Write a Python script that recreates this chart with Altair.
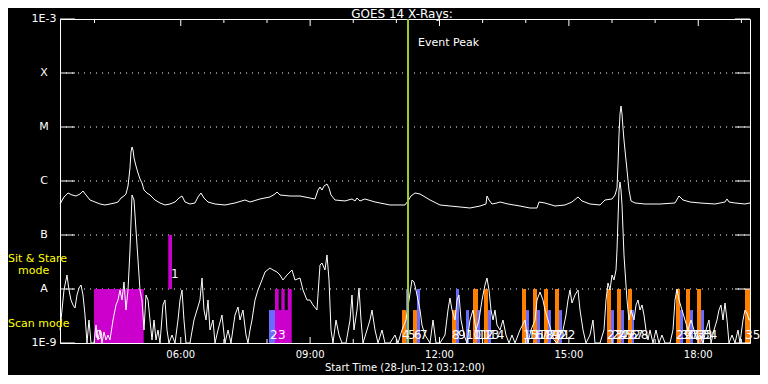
import altair as alt
import pandas as pd

# ---------------- data (hours of 28-Jun-12, log10 flux in W/m^2) ----------------
upper_hour = [3.200, 3.293, 3.386, 3.478, 3.571, 3.664, 3.733, 3.803, 3.896, 4.012,
              4.128, 4.243, 4.359, 4.475, 4.545, 4.615, 4.684, 4.730, 4.777, 4.823,
              4.846, 4.870, 4.893, 4.916, 4.962, 5.009, 5.055, 5.101, 5.148, 5.217,
              5.287, 5.403, 5.519, 5.635, 5.751, 5.867, 5.959, 6.029, 6.099, 6.214,
              6.330, 6.400, 6.469, 6.539, 6.632, 6.794, 7.026, 7.258, 7.490, 7.606,
              7.838, 8.069, 8.186, 8.232, 8.301, 8.533, 8.765, 8.997, 9.113, 9.183,
              9.229, 9.275, 9.322, 9.391, 9.438, 9.484, 9.577, 9.809, 9.971, 10.040,
              10.087, 10.156, 10.272, 10.504, 10.852, 11.200, 11.270, 11.339, 11.432, 11.548,
              11.664, 11.780, 12.011, 12.243, 12.475, 12.707, 12.939, 13.078, 13.101, 13.148,
              13.217, 13.333, 13.403, 13.588, 13.867, 14.098, 14.261, 14.307, 14.446, 14.678,
              14.910, 15.072, 15.212, 15.304, 15.490, 15.722, 15.838, 16.000, 16.070, 16.116,
              16.139, 16.162, 16.186, 16.209, 16.232, 16.255, 16.278, 16.301, 16.348, 16.394,
              16.441, 16.533, 16.765, 17.113, 17.461, 17.554, 17.646, 17.809, 18.040, 18.388,
              18.620, 18.667, 18.713, 18.852, 19.084, 19.200]
upper_log = [-6.426, -6.296, -6.222, -6.259, -6.278, -6.241, -6.185, -6.259, -6.352, -6.389,
             -6.426, -6.444, -6.426, -6.407, -6.389, -6.315, -6.278, -6.241, -6.093, -5.759,
             -5.463, -5.370, -5.426, -5.574, -5.722, -5.852, -5.963, -6.037, -6.167, -6.222,
             -6.259, -6.352, -6.407, -6.444, -6.426, -6.389, -6.315, -6.278, -6.389, -6.426,
             -6.407, -6.296, -6.222, -6.315, -6.389, -6.426, -6.444, -6.407, -6.352, -6.389,
             -6.333, -6.296, -6.241, -6.204, -6.259, -6.278, -6.278, -6.315, -6.333, -6.167,
             -6.111, -6.167, -6.093, -6.056, -6.130, -6.259, -6.352, -6.370, -6.333, -6.370,
             -6.315, -6.370, -6.333, -6.389, -6.444, -6.444, -6.370, -6.278, -6.222, -6.241,
             -6.296, -6.352, -6.444, -6.463, -6.481, -6.500, -6.463, -6.426, -6.278, -6.352,
             -6.426, -6.407, -6.389, -6.426, -6.463, -6.500, -6.500, -6.389, -6.407, -6.463,
             -6.444, -6.389, -6.296, -6.370, -6.426, -6.444, -6.352, -6.333, -6.259, -6.130,
             -5.704, -5.148, -4.759, -4.611, -4.759, -5.019, -5.241, -5.426, -5.796, -6.167,
             -6.370, -6.407, -6.426, -6.426, -6.407, -6.278, -6.352, -6.389, -6.407, -6.426,
             -6.389, -6.333, -6.389, -6.407, -6.426, -6.407]

lower_hour = [3.200, 3.246, 3.293, 3.362, 3.409, 3.455, 3.501, 3.548, 3.594, 3.641,
              3.687, 3.733, 3.780, 3.826, 3.872, 3.919, 3.988, 4.035, 4.081, 4.128,
              4.174, 4.220, 4.267, 4.313, 4.359, 4.429, 4.499, 4.545, 4.591, 4.638,
              4.684, 4.730, 4.777, 4.823, 4.870, 4.916, 4.962, 5.009, 5.055, 5.101,
              5.148, 5.194, 5.241, 5.287, 5.333, 5.380, 5.426, 5.472, 5.519, 5.588,
              5.635, 5.681, 5.727, 5.797, 5.867, 5.936, 5.983, 6.029, 6.075, 6.122,
              6.214, 6.307, 6.377, 6.446, 6.493, 6.539, 6.586, 6.632, 6.678, 6.748,
              6.794, 6.864, 6.956, 7.026, 7.096, 7.165, 7.258, 7.328, 7.374, 7.443,
              7.513, 7.559, 7.606, 7.652, 7.722, 7.791, 7.884, 7.954, 8.069, 8.139,
              8.232, 8.301, 8.371, 8.464, 8.580, 8.649, 8.765, 8.835, 8.927, 8.997,
              9.067, 9.159, 9.229, 9.275, 9.345, 9.391, 9.438, 9.484, 9.530, 9.600,
              9.670, 9.739, 9.832, 9.925, 9.971, 10.017, 10.087, 10.133, 10.180, 10.226,
              10.319, 10.388, 10.435, 10.504, 10.574, 10.667, 10.736, 10.852, 10.968, 11.038,
              11.130, 11.223, 11.293, 11.362, 11.409, 11.455, 11.501, 11.548, 11.594, 11.664,
              11.780, 11.849, 11.919, 12.011, 12.127, 12.197, 12.243, 12.290, 12.359, 12.406,
              12.452, 12.499, 12.568, 12.638, 12.707, 12.777, 12.846, 12.916, 12.986, 13.055,
              13.101, 13.148, 13.194, 13.241, 13.287, 13.333, 13.403, 13.472, 13.542, 13.612,
              13.681, 13.751, 13.867, 13.983, 14.052, 14.122, 14.214, 14.261, 14.330, 14.400,
              14.446, 14.516, 14.585, 14.655, 14.725, 14.794, 14.864, 14.933, 14.980, 15.026,
              15.072, 15.142, 15.212, 15.258, 15.328, 15.397, 15.490, 15.559, 15.606, 15.722,
              15.814, 15.861, 15.907, 15.954, 16.000, 16.046, 16.093, 16.116, 16.139, 16.162,
              16.186, 16.209, 16.232, 16.255, 16.278, 16.301, 16.348, 16.394, 16.441, 16.510,
              16.557, 16.603, 16.649, 16.696, 16.742, 16.788, 16.835, 16.881, 16.951, 17.020,
              17.090, 17.159, 17.229, 17.345, 17.414, 17.461, 17.507, 17.554, 17.623, 17.693,
              17.762, 17.832, 17.901, 17.971, 18.040, 18.110, 18.180, 18.249, 18.296, 18.365,
              18.435, 18.481, 18.527, 18.574, 18.620, 18.667, 18.713, 18.783, 18.852, 18.922,
              18.968, 19.038, 19.084, 19.130, 19.177, 19.200]
lower_log = [-8.759, -8.389, -8.019, -7.741, -8.019, -8.204, -8.296, -8.352, -8.111, -7.981,
             -7.926, -8.111, -8.481, -9.000, -8.574, -9.000, -9.000, -8.667, -8.944, -8.759,
             -9.000, -8.796, -8.944, -8.852, -8.944, -8.574, -8.296, -8.204, -8.019, -8.204,
             -7.870, -8.389, -8.019, -7.278, -6.259, -6.352, -6.907, -7.463, -8.019, -8.204,
             -8.759, -8.111, -8.204, -8.574, -8.944, -8.574, -8.944, -8.759, -9.000, -8.296,
             -8.204, -8.759, -9.000, -8.852, -9.000, -8.574, -8.204, -8.019, -8.574, -9.000,
             -9.000, -8.574, -8.389, -8.204, -7.796, -8.389, -8.574, -8.204, -8.759, -8.574,
             -9.000, -8.759, -8.481, -9.000, -8.759, -9.000, -8.481, -8.333, -8.574, -8.389,
             -8.852, -9.000, -8.759, -8.574, -8.204, -8.019, -7.833, -7.685, -7.611, -7.648,
             -7.685, -7.741, -7.833, -7.741, -7.648, -7.833, -7.796, -8.019, -8.204, -8.204,
             -8.296, -8.389, -7.556, -7.519, -7.648, -7.370, -7.833, -8.759, -9.000, -8.574,
             -8.852, -9.000, -9.000, -8.574, -8.111, -8.759, -8.389, -7.981, -8.574, -9.000,
             -8.759, -8.574, -8.389, -8.759, -9.000, -8.759, -9.000, -9.000, -8.852, -9.000,
             -8.759, -8.574, -8.204, -7.833, -7.870, -8.019, -8.204, -8.389, -8.667, -8.852,
             -9.000, -8.574, -9.000, -9.000, -8.852, -8.389, -8.167, -8.389, -8.574, -8.204,
             -8.111, -8.574, -8.852, -9.000, -8.574, -8.389, -8.759, -8.574, -8.204, -7.926,
             -7.796, -8.019, -8.389, -8.574, -8.389, -8.667, -8.759, -8.574, -8.852, -9.000,
             -8.852, -9.000, -8.759, -8.574, -9.000, -8.759, -8.574, -8.204, -8.056, -8.204,
             -8.389, -8.574, -8.759, -8.944, -9.000, -8.852, -8.759, -8.481, -8.204, -8.019,
             -8.259, -8.111, -8.019, -8.389, -8.759, -9.000, -8.852, -8.574, -9.000, -9.000,
             -8.759, -8.204, -7.889, -8.019, -7.741, -7.833, -7.648, -7.278, -6.722, -6.167,
             -6.019, -6.167, -6.444, -6.907, -7.370, -7.648, -8.204, -8.574, -8.389, -8.574,
             -8.296, -8.204, -8.389, -8.296, -8.481, -8.759, -8.944, -8.759, -9.000, -8.759,
             -9.000, -8.852, -9.000, -9.000, -8.759, -8.204, -8.000, -8.204, -8.389, -8.574,
             -8.759, -8.574, -8.759, -8.944, -8.852, -9.000, -8.759, -8.574, -9.000, -8.759,
             -8.574, -8.389, -8.296, -8.574, -8.259, -8.574, -9.000, -8.852, -9.000, -8.759,
             -9.000, -8.574, -8.389, -8.444, -8.574, -8.574]

# observation blocks: start/end hour, bottom/top log10 flux, mode
bar_start = [3.988, 5.711, 8.046, 8.186, 8.186, 8.332, 8.480,
             11.130, 11.223, 11.386, 11.478,
             12.290, 12.382, 12.614, 12.777, 12.870, 13.032, 13.124,
             13.913, 14.006, 14.168, 14.261, 14.423, 14.516, 14.678, 14.771,
             15.884, 15.977, 16.116, 16.209, 16.371, 16.464,
             17.484, 17.577, 17.716, 17.809, 17.971, 18.064,
             19.084]
bar_end = [5.141, 5.797, 8.186, 8.573, 8.271, 8.411, 8.573,
           11.223, 11.293, 11.478, 11.548,
           12.382, 12.452, 12.684, 12.893, 12.939, 13.124, 13.194,
           14.006, 14.075, 14.261, 14.330, 14.516, 14.585, 14.771, 14.840,
           15.977, 16.046, 16.209, 16.278, 16.464, 16.510,
           17.577, 17.646, 17.809, 17.878, 18.064, 18.133,
           19.200]
bar_low = [-9, -8, -9, -9, -8.39, -8.39, -8.39,
           -9, -9, -9, -9,
           -9, -9, -9, -9, -9, -9, -9,
           -9, -9, -9, -9, -9, -9, -9, -9,
           -9, -9, -9, -9, -9, -9,
           -9, -9, -9, -9, -9, -9,
           -9]
bar_high = [-8, -7, -8.39, -8.39, -8, -8, -8,
            -8.39, -8, -8.39, -8,
            -8.39, -8, -8.39, -8, -8.39, -8, -8.39,
            -8, -8.39, -8, -8.39, -8, -8.39, -8, -8.39,
            -8, -8.39, -8, -8.39, -8, -8.39,
            -8, -8.39, -8, -8.39, -8, -8.39,
            -8]
bar_mode = ["sit", "sit", "blue", "sit", "sit", "sit", "sit",
            "orange", "blue", "orange", "blue",
            "orange", "blue", "blue", "orange", "blue", "orange", "blue",
            "orange", "blue", "orange", "blue", "orange", "blue", "orange", "blue",
            "orange", "blue", "orange", "blue", "orange", "blue",
            "orange", "blue", "orange", "blue", "orange", "blue",
            "orange"]

label_text = [str(i) for i in range(36)]
label_hour = [4.012, 5.774, 8.069, 8.255, 11.130, 11.270, 11.409, 11.548,
              12.290, 12.429, 12.614, 12.777, 12.893, 13.032, 13.148,
              13.936, 14.052, 14.168, 14.284, 14.423, 14.539, 14.678, 14.794,
              15.884, 16.000, 16.116, 16.232, 16.371, 16.487,
              17.484, 17.600, 17.716, 17.832, 17.971, 18.087, 19.084]
label_log = [-8.93, -7.80] + [-8.93] * 34

level_flux = [1e-9, 1e-8, 1e-7, 1e-6, 1e-5, 1e-4, 1e-3]
level_name = ["1E-9", "A", "B", "C", "M", "X", "1E-3"]
major_hours = [6, 9, 12, 15, 18]
major_text = ["06:00", "09:00", "12:00", "15:00", "18:00"]
minor_hours = [4, 7, 8, 10, 11, 13, 14, 16, 17, 19]
peak_hour = 11.27
event_label_log = -3.444
mode_text_list = ["Sit & Stare", "mode", "Scan mode"]
mode_text_log = [-7.444, -7.661, -8.648]
title_text = "GOES 14 X-Rays:"
xtitle_text = "Start Time (28-Jun-12 03:12:00)"

# ---------------- chart ----------------
FONT = "DejaVu Sans"
W, H = 690, 324
T_START, T_END = 3.2, 19.2
T_MID = (T_START + T_END) / 2
xs = alt.Scale(domain=[T_START, T_END], nice=False, zero=False)
ys = alt.Scale(type="log", domain=[1e-9, 1e-3], nice=False, clamp=True)


def X(field):
    return alt.X(field, type="quantitative", scale=xs, axis=None)


def Y(field):
    return alt.Y(field, type="quantitative", scale=ys, axis=None)


upper_df = pd.DataFrame({"h": upper_hour, "f": [10 ** v for v in upper_log]})
lower_df = pd.DataFrame({"h": lower_hour, "f": [10 ** v for v in lower_log]})
bars_df = pd.DataFrame({"h0": bar_start, "h1": bar_end,
                        "f0": [10 ** v for v in bar_low], "f1": [10 ** v for v in bar_high],
                        "mode": bar_mode})
labels_df = pd.DataFrame({"h": label_hour, "f": [10 ** v for v in label_log], "t": label_text})
levels_df = pd.DataFrame({"f": level_flux, "t": level_name, "h": [T_START] * len(level_flux)})
inner_levels_df = levels_df.iloc[1:-1]
major_df = pd.DataFrame({"h": major_hours, "t": major_text, "f": [1e-9] * len(major_hours)})
minor_df = pd.DataFrame({"h": minor_hours})
peak_df = pd.DataFrame({"h": [peak_hour], "f": [10 ** event_label_log], "t": ["Event Peak"]})
mode_df = pd.DataFrame({"h": [T_START] * 3, "f": [10 ** v for v in mode_text_log],
                        "t": mode_text_list})
title_df = pd.DataFrame({"h": [T_MID], "f": [1e-3], "t": [title_text]})
xtitle_df = pd.DataFrame({"h": [T_MID], "f": [1e-9], "t": [xtitle_text]})

grid = alt.Chart(inner_levels_df).mark_rule(color="white", strokeDash=[1, 5], strokeWidth=1).encode(
    x=alt.value(0), x2=alt.value(W), y=Y("f"))

bars = alt.Chart(bars_df).mark_rect().encode(
    x=X("h0"), x2="h1:Q", y=Y("f0"), y2="f1:Q",
    color=alt.Color("mode:N", legend=None,
                    scale=alt.Scale(domain=["sit", "blue", "orange"],
                                    range=["#cc00cc", "#6b6bff", "#ff7f00"])))

upper = alt.Chart(upper_df).mark_line(color="white", strokeWidth=1).encode(x=X("h"), y=Y("f"))
lower = alt.Chart(lower_df).mark_line(color="white", strokeWidth=1).encode(x=X("h"), y=Y("f"))

labels = alt.Chart(labels_df).mark_text(align="left", baseline="alphabetic", color="white",
                                        fontSize=12, font=FONT).encode(
    x=X("h"), y=Y("f"), text="t:N")

peak_line = alt.Chart(peak_df).mark_rule(color="#9acd32", strokeWidth=2).encode(x=X("h"))
peak_text = alt.Chart(peak_df).mark_text(align="left", baseline="middle", dx=10, color="white",
                                         fontSize=11, font=FONT).encode(
    x=X("h"), y=Y("f"), text="t:N")

left_ticks = alt.Chart(levels_df).mark_rule(color="white").encode(
    x=alt.value(0), x2=alt.value(15), y=Y("f"))
right_ticks = alt.Chart(levels_df).mark_rule(color="white").encode(
    x=alt.value(W - 15), x2=alt.value(W), y=Y("f"))
top_major = alt.Chart(major_df).mark_rule(color="white").encode(
    x=X("h"), y=alt.value(0), y2=alt.value(7))
top_minor = alt.Chart(minor_df).mark_rule(color="white").encode(
    x=X("h"), y=alt.value(0), y2=alt.value(4))
bot_major = alt.Chart(major_df).mark_rule(color="white").encode(
    x=X("h"), y=alt.value(H), y2=alt.value(H - 6))
bot_minor = alt.Chart(minor_df).mark_rule(color="white").encode(
    x=X("h"), y=alt.value(H), y2=alt.value(H - 4))

y_labels = alt.Chart(levels_df).mark_text(align="center", baseline="middle", dx=-16,
                                          color="white", fontSize=11, font=FONT).encode(
    x=X("h"), y=Y("f"), text="t:N")
x_labels = alt.Chart(major_df).mark_text(align="center", baseline="middle", dy=12,
                                         color="white", fontSize=10, font=FONT).encode(
    x=X("h"), y=Y("f"), text="t:N")
x_title = alt.Chart(xtitle_df).mark_text(align="center", baseline="middle", dy=25,
                                         color="white", fontSize=10, font=FONT).encode(
    x=X("h"), y=Y("f"), text="t:N")
title = alt.Chart(title_df).mark_text(align="center", baseline="middle", dy=-5, dx=-3,
                                      color="white", fontSize=12, font=FONT).encode(
    x=X("h"), y=Y("f"), text="t:N")


def mode_layer(i, dx):
    return alt.Chart(mode_df.iloc[[i]]).mark_text(
        align="left", baseline="middle", dx=dx, color="#ffff00", fontSize=11, font=FONT
    ).encode(x=X("h"), y=Y("f"), text="t:N")


chart = alt.layer(
    grid, bars, upper, lower, peak_line, labels, peak_text,
    left_ticks, right_ticks, top_major, top_minor, bot_major, bot_minor,
    y_labels, x_labels, x_title, title,
    mode_layer(0, -52), mode_layer(1, -42), mode_layer(2, -52),
).properties(
    width=W, height=H,
    autosize=alt.AutoSizeParams(type="none"),
    padding={"left": 52, "top": 11, "right": 10, "bottom": 32},
).configure(background="black").configure_view(stroke="white", strokeWidth=1)

chart.save("out.html", embed_options={"renderer": "svg", "actions": False})
